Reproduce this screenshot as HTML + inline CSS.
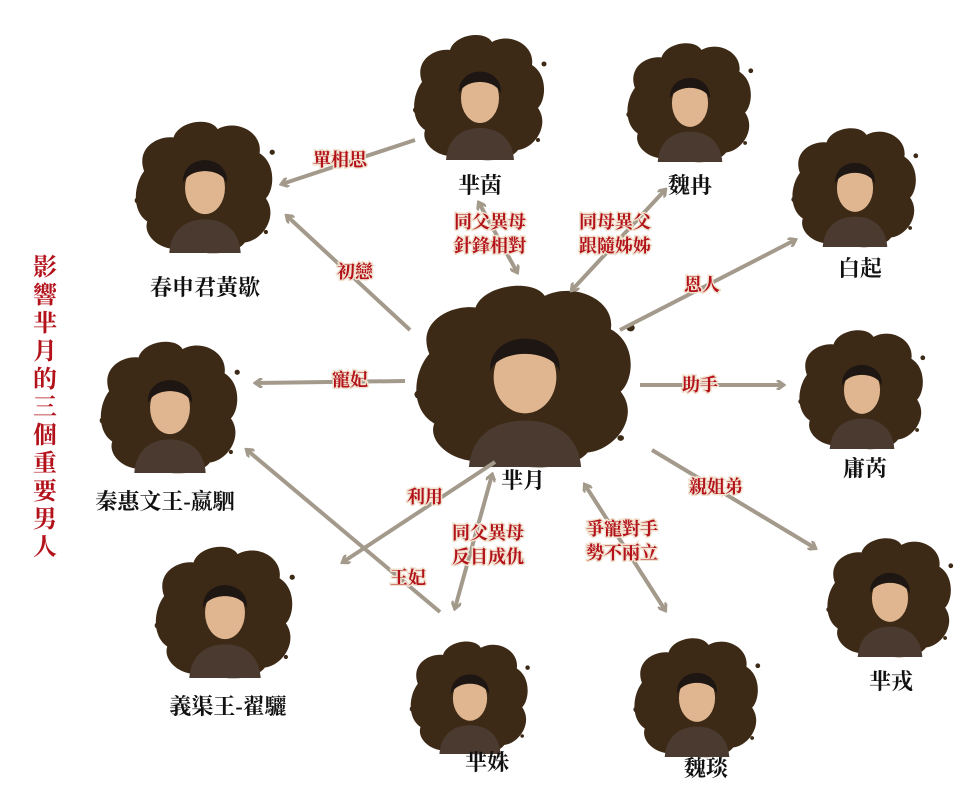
<!DOCTYPE html>
<html><head><meta charset="utf-8"><style>
body{margin:0;background:#fff;}
svg{display:block}
.n{font-family:"Liberation Serif","Noto Serif CJK SC",serif;font-size:22px;font-weight:bold;fill:#111;text-anchor:middle}
.l{font-family:"Liberation Serif","Noto Serif CJK SC",serif;font-size:18px;font-weight:bold;fill:#b3121a;text-anchor:middle;stroke:#f1e2d0;stroke-width:3;paint-order:stroke}
.t{font-family:"Liberation Serif","Noto Serif CJK SC",serif;font-size:24px;font-weight:bold;fill:#b3121a;text-anchor:middle}
.a{stroke:#a39a8c;stroke-width:4;fill:none;marker-end:url(#m)}
.b{stroke:#a39a8c;stroke-width:4;fill:none;marker-end:url(#m);marker-start:url(#ms)}
</style></head><body>
<svg width="980" height="792" viewBox="0 0 980 792">
<defs>
<marker id="m" markerWidth="10" markerHeight="10" refX="7" refY="5" orient="auto" markerUnits="userSpaceOnUse"><path d="M1,0 L8,5 L1,10" stroke="#a39a8c" stroke-width="3" fill="none"/></marker>
<marker id="ms" markerWidth="10" markerHeight="10" refX="3" refY="5" orient="auto" markerUnits="userSpaceOnUse"><path d="M9,0 L2,5 L9,10" stroke="#a39a8c" stroke-width="3" fill="none"/></marker>
<g id="p">
<path d="M-58,-18 C-66,-40 -45,-52 -30,-50 C-25,-66 5,-70 12,-58 C30,-68 55,-55 52,-35 C68,-25 66,0 58,8 C70,25 55,48 38,50 C28,64 -8,62 -18,54 C-38,62 -60,45 -55,30 C-70,20 -68,-5 -58,-18Z" fill="#3d2a16"/>
<circle cx="-64" cy="10" r="3" fill="#3d2a16"/><circle cx="64" cy="-36" r="2.5" fill="#3d2a16"/><circle cx="58" cy="40" r="2" fill="#3d2a16"/>
<path d="M-34,60 C-32,35 -15,28 0,28 C15,28 32,35 34,60Z" fill="#4a3a30"/>
<ellipse cx="0" cy="-2" rx="19" ry="25" fill="#e0b690"/>
<path d="M-21,-6 C-23,-36 23,-36 21,-6 C16,-22 -16,-22 -21,-6Z" fill="#1e1612"/>
</g>
</defs>

<use href="#p" transform="translate(480,100)"/>
<use href="#p" transform="translate(690,105) scale(0.95)"/>
<use href="#p" transform="translate(855,190) scale(0.95)"/>
<use href="#p" transform="translate(205,190) scale(1.05)"/>
<use href="#p" transform="translate(525,380) scale(1.65,1.45)"/>
<use href="#p" transform="translate(170,410) scale(1.05)"/>
<use href="#p" transform="translate(862,392) scale(0.95)"/>
<use href="#p" transform="translate(225,615) scale(1.05)"/>
<use href="#p" transform="translate(470,700) scale(0.9)"/>
<use href="#p" transform="translate(697,700) scale(0.95)"/>
<use href="#p" transform="translate(890,600) scale(0.95)"/>

<path class="a" d="M415,140 L282,184"/>
<path class="a" d="M410,330 L287,216"/>
<path class="a" d="M405,381 L256,383"/>
<path class="b" d="M479,203 L517,272"/>
<path class="b" d="M572,290 L665,190"/>
<path class="a" d="M620,330 L795,240"/>
<path class="a" d="M640,385 L783,385"/>
<path class="a" d="M652,450 L815,548"/>
<path class="a" d="M495,462 L343,562"/>
<path class="a" d="M440,612 L247,450"/>
<path class="b" d="M492,475 L455,608"/>
<path class="b" d="M585,485 L665,610"/>

<text class="l" x="340" y="166">單相思</text>
<text class="l" x="355" y="278">初戀</text>
<text class="l" x="350" y="386">寵妃</text>
<text class="l" x="490" y="228">同父異母</text>
<text class="l" x="490" y="252">針鋒相對</text>
<text class="l" x="615" y="228">同母異父</text>
<text class="l" x="615" y="252">跟隨姊姊</text>
<text class="l" x="702" y="291">恩人</text>
<text class="l" x="700" y="391">助手</text>
<text class="l" x="716" y="493">親姐弟</text>
<text class="l" x="425" y="503">利用</text>
<text class="l" x="488" y="539">同父異母</text>
<text class="l" x="488" y="563">反目成仇</text>
<text class="l" x="622" y="535">爭寵對手</text>
<text class="l" x="622" y="559">勢不兩立</text>
<text class="l" x="408" y="584">王妃</text>

<text class="n" x="480" y="193">芈茵</text>
<text class="n" x="690" y="193">魏冉</text>
<text class="n" x="860" y="276">白起</text>
<text class="n" x="205" y="295">春申君黃歇</text>
<text class="n" x="523" y="488">芈月</text>
<text class="n" x="165" y="509">秦惠文王-嬴駟</text>
<text class="n" x="865" y="476">庸芮</text>
<text class="n" x="228" y="714">義渠王-翟驪</text>
<text class="n" x="487" y="770">芈姝</text>
<text class="n" x="706" y="776">魏琰</text>
<text class="n" x="891" y="689">芈戎</text>

<g class="t">
<text x="45" y="275">影</text><text x="45" y="303">響</text><text x="45" y="331">芈</text><text x="45" y="359">月</text><text x="45" y="387">的</text><text x="45" y="415">三</text><text x="45" y="443">個</text><text x="45" y="471">重</text><text x="45" y="499">要</text><text x="45" y="527">男</text><text x="45" y="555">人</text>
</g>
</svg>
</body></html>
